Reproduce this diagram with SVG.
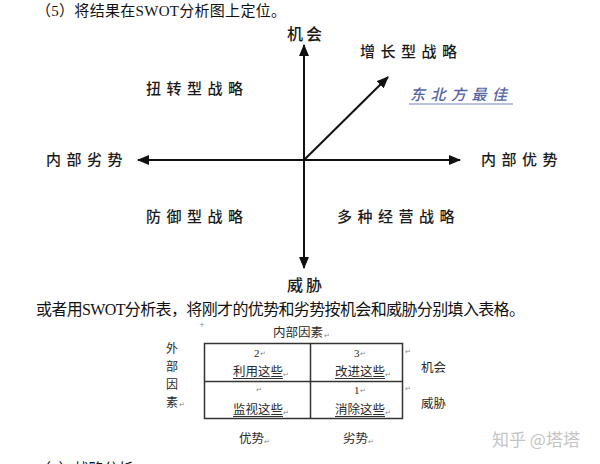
<svg xmlns="http://www.w3.org/2000/svg" width="600" height="464" viewBox="0 0 600 464">
<style>
.para{font-family:"Liberation Serif","Noto Sans CJK SC",serif;fill:#111;}
.cal{font-family:"Noto Sans CJK SC",sans-serif;font-size:15px;font-weight:500;letter-spacing:5.5px;fill:#1a1a1a;}
.tb{font-family:"Noto Sans CJK SC",sans-serif;font-size:12.5px;fill:#2a2a2a;}
.num{font-family:"Liberation Serif","Noto Sans CJK SC",serif;font-size:11px;fill:#2a2a2a;}
.pm{font-family:"DejaVu Sans",sans-serif;font-size:7px;fill:#888;}
.ax{stroke:#111;stroke-width:2;fill:none;}
.ul{stroke:#333;stroke-width:1;}
</style>
<defs>
<marker id="ah" markerUnits="userSpaceOnUse" markerWidth="12" markerHeight="10" refX="11" refY="5" orient="auto-start-reverse">
<path d="M0,0 L12,5 L0,10 z" fill="#111"/>
</marker>
</defs>
<rect width="600" height="464" fill="#fff"/>

<text class="para" x="36" y="16" font-size="15" textLength="250" lengthAdjust="spacing">（5）将结果在SWOT分析图上定位。</text>

<g id="connectors">
<line class="ax" x1="304" y1="268" x2="304" y2="45" marker-start="url(#ah)" marker-end="url(#ah)"/>
<line class="ax" x1="138" y1="160" x2="460" y2="160" marker-start="url(#ah)" marker-end="url(#ah)"/>
<line class="ax" x1="304" y1="160" x2="388" y2="77" marker-end="url(#ah)"/>
</g>

<g id="n-opportunity"><text class="cal" x="287" y="40" style="letter-spacing:3px;font-size:16px">机会</text></g>
<g id="n-growth"><text class="cal" x="360" y="57">增长型战略</text></g>
<g id="n-turnaround"><text class="cal" x="146" y="94">扭转型战略</text></g>
<g id="n-northeast">
<text class="cal" x="410" y="100" style="fill:#5564a3;font-style:italic">东北方最佳</text>
<line x1="409" y1="104" x2="513" y2="104" stroke="#7784b8" stroke-width="1.2"/>
</g>
<g id="n-weakness"><text class="cal" x="46" y="165">内部劣势</text></g>
<g id="n-strength"><text class="cal" x="481" y="165">内部优势</text></g>
<g id="n-defensive"><text class="cal" x="146" y="222">防御型战略</text></g>
<g id="n-diversify"><text class="cal" x="337" y="222">多种经营战略</text></g>
<g id="n-threat"><text class="cal" x="287" y="291" style="letter-spacing:3px;font-size:16px">威胁</text></g>

<text class="para" x="36" y="315" font-size="16" textLength="489" lengthAdjust="spacing">或者用SWOT分析表，将刚才的优势和劣势按机会和威胁分别填入表格。</text>

<g id="swot-table">
<text class="pm" x="199" y="327">+</text>
<text class="tb" x="273" y="337">内部因素</text><text class="pm" x="324" y="338">↵</text>
<text class="tb" x="166" y="353" style="font-size:12px">外</text>
<text class="tb" x="166" y="371" style="font-size:12px">部</text>
<text class="tb" x="166" y="389" style="font-size:12px">因</text>
<text class="tb" x="166" y="407" style="font-size:12px">素</text><text class="pm" x="179" y="407">↵</text>
<rect x="204.5" y="343.5" width="198" height="75" fill="none" stroke="#333" stroke-width="1.5"/>
<line x1="310.5" y1="343.5" x2="310.5" y2="418.5" stroke="#333" stroke-width="1.5"/>
<line x1="204.5" y1="381.5" x2="402.5" y2="381.5" stroke="#333" stroke-width="1.5"/>
<text class="num" x="254" y="357">2</text><text class="pm" x="260" y="356">↵</text>
<text class="tb" x="233" y="376">利用这些</text><text class="pm" x="283" y="377">↵</text>
<line class="ul" x1="233" y1="378.5" x2="283" y2="378.5"/>
<text class="pm" x="256" y="392">↵</text>
<text class="tb" x="233" y="414">监视这些</text><text class="pm" x="283" y="415">↵</text>
<line class="ul" x1="233" y1="416.5" x2="283" y2="416.5"/>
<text class="num" x="354" y="357">3</text><text class="pm" x="360" y="356">↵</text>
<text class="tb" x="335" y="376">改进这些</text><text class="pm" x="385" y="377">↵</text>
<line class="ul" x1="335" y1="378.5" x2="385" y2="378.5"/>
<text class="num" x="354" y="394">1</text><text class="pm" x="360" y="393">↵</text>
<text class="tb" x="335" y="414">消除这些</text><text class="pm" x="385" y="415">↵</text>
<line class="ul" x1="335" y1="416.5" x2="385" y2="416.5"/>
<text class="pm" x="405" y="354">↵</text>
<text class="pm" x="405" y="391">↵</text>
<text class="tb" x="421" y="372">机会</text>
<text class="tb" x="421" y="408">威胁</text>
<text class="tb" x="239" y="443">优势</text><text class="pm" x="264" y="444">↵</text>
<text class="tb" x="343" y="443">劣势</text><text class="pm" x="368" y="444">↵</text>
</g>

<text x="492" y="446" font-family="Noto Sans CJK SC,sans-serif" font-size="17" fill="#c4c4c4">知乎 @塔塔</text>
<text class="para" x="36" y="474" font-size="15">（6）战略分析</text>
</svg>
